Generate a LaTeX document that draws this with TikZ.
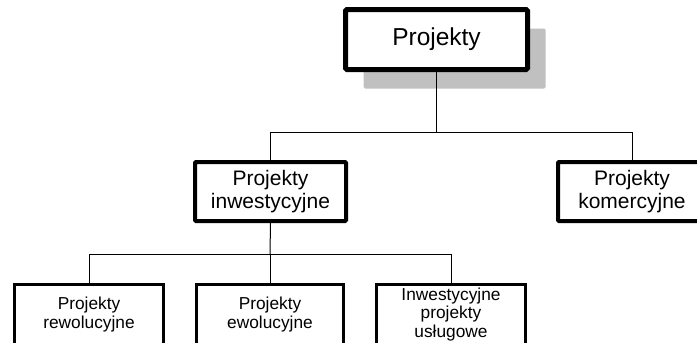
\documentclass[tikz,border=0pt]{standalone}
\usepackage{fontspec}
\setmainfont{Liberation Sans}
\usetikzlibrary{shadows}
\definecolor{shadowgray}{RGB}{192,192,192}
\begin{document}
\begin{tikzpicture}[x=1pt,y=-1pt,
  every node/.style={inner sep=0pt,align=center},
  rootbox/.style={draw,line width=5pt,rounded corners=1.5pt,fill=white,
    minimum width=182pt,minimum height=60pt,
    font=\fontsize{24.5}{29}\selectfont,
    drop shadow={shadow xshift=18pt,shadow yshift=-19pt,fill=shadowgray,opacity=1}},
  midbox/.style={draw,line width=4pt,rounded corners=1pt,fill=white,
    minimum width=151pt,minimum height=59pt,
    font=\fontsize{21}{23.5}\selectfont},
  leafbox/.style={draw,line width=3pt,fill=white,
    minimum width=149pt,minimum height=60pt,
    font=\fontsize{17.3}{18.3}\selectfont},
  link/.style={draw,line width=1pt}]
  \useasboundingbox (0,0) rectangle (697,343);
  \clip (0,0) rectangle (697,343);

  % hierarchy of project types
  \node[rootbox] (root) at (436.5,39.5) {Projekty};
  \node[midbox] (inw) at (270.5,191.5) {Projekty\\inwestycyjne};
  \node[midbox,minimum width=148pt] (kom) at (632,191.5) {Projekty\\komercyjne};
  \node[leafbox] (rew) at (89,314.5) {Projekty\\rewolucyjne};
  \node[leafbox,minimum width=147pt] (ewo) at (270,314.5) {Projekty\\ewolucyjne};
  \node[leafbox] (usl) at (451,314.5) {Inwestycyjne\\projekty\\usługowe};

  % connectors
  \coordinate (busA) at (436.5,132);
  \coordinate (busB) at (270,254);
  \draw[link] (root.south) -- (busA);
  \draw[link] (inw.north) |- (busA);
  \draw[link] (kom.north) |- (busA);
  \draw[link] (inw.south) -- (busB);
  \draw[link] (rew.north) |- (busB);
  \draw[link] (ewo.north) -- (busB);
  \draw[link] (usl.north) |- (busB);
\end{tikzpicture}
\end{document}
